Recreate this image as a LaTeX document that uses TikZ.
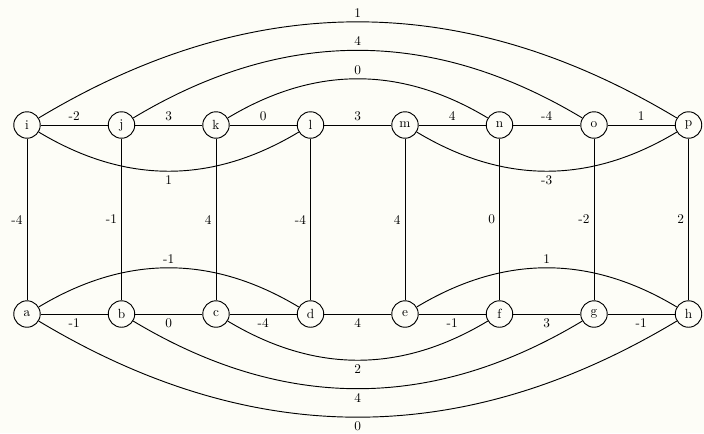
\documentclass[tikz,border=0pt]{standalone}
\usepackage{tikz}
\definecolor{bgcol}{RGB}{253,253,247}
\begin{document}
\begin{tikzpicture}[
  vtx/.style={circle, draw, line width=0.7pt, minimum size=7mm, inner sep=0pt, fill=bgcol},
  every path/.style={line width=0.7pt},
  lbl/.style={inner sep=3pt},
  bl/.style={bend left=31},
  br/.style={bend right=31}
]
\fill[bgcol] (-0.714,-8.148) rectangle (17.91,3.307);
\useasboundingbox (-0.714,-8.148) rectangle (17.91,3.307);
% top row
\foreach \n [count=\k from 0] in {i,j,k,l,m,n,o,p}
  \node[vtx] (\n) at (2.5*\k,0) {\n};
% bottom row
\foreach \n [count=\k from 0] in {a,b,c,d,e,f,g,h}
  \node[vtx] (\n) at (2.5*\k,-5) {\n};
% top straight edges
\draw (i) -- node[lbl,above] {-2} (j);
\draw (j) -- node[lbl,above] {3} (k);
\draw (k) -- node[lbl,above] {0} (l);
\draw (l) -- node[lbl,above] {3} (m);
\draw (m) -- node[lbl,above] {4} (n);
\draw (n) -- node[lbl,above] {-4} (o);
\draw (o) -- node[lbl,above] {1} (p);
% bottom straight edges
\draw (a) -- node[lbl,below] {-1} (b);
\draw (b) -- node[lbl,below] {0} (c);
\draw (c) -- node[lbl,below] {-4} (d);
\draw (d) -- node[lbl,below] {4} (e);
\draw (e) -- node[lbl,below] {-1} (f);
\draw (f) -- node[lbl,below] {3} (g);
\draw (g) -- node[lbl,below] {-1} (h);
% vertical edges
\draw (i) -- node[lbl,left] {-4} (a);
\draw (j) -- node[lbl,left] {-1} (b);
\draw (k) -- node[lbl,left] {4} (c);
\draw (l) -- node[lbl,left] {-4} (d);
\draw (m) -- node[lbl,left] {4} (e);
\draw (n) -- node[lbl,left] {0} (f);
\draw (o) -- node[lbl,left] {-2} (g);
\draw (p) -- node[lbl,left] {2} (h);
% top curved edges
\draw (i) to[bl] node[lbl,above] {1} (p);
\draw (j) to[bl] node[lbl,above] {4} (o);
\draw (k) to[bl] node[lbl,above] {0} (n);
\draw (i) to[br] node[lbl,below] {1} (l);
\draw (m) to[br] node[lbl,below] {-3} (p);
% bottom curved edges
\draw (a) to[bl] node[lbl,above] {-1} (d);
\draw (e) to[bl] node[lbl,above] {1} (h);
\draw (c) to[br] node[lbl,below] {2} (f);
\draw (b) to[br] node[lbl,below] {4} (g);
\draw (a) to[br] node[lbl,below] {0} (h);
\end{tikzpicture}
\end{document}
